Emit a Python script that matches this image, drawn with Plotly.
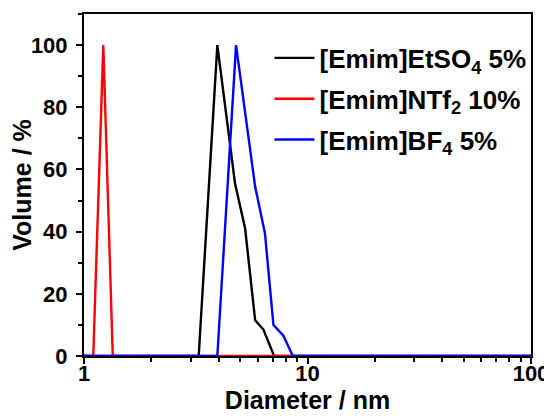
import plotly.graph_objects as go

# Data
black_x = [1, 3.26, 3.95, 4.74, 5.26, 5.83, 6.35, 7.09, 100]
black_y = [0, 0, 100, 55.5, 41, 11.5, 8.5, 0, 0]

red_x = [1, 1.10, 1.22, 1.345, 100]
red_y = [0, 0, 100, 0, 0]

blue_x = [1, 3.95, 4.79, 5.83, 6.45, 7.04, 7.8, 8.6, 100]
blue_y = [0, 0, 100, 54.5, 39.5, 10, 6.5, 0, 0]

names = ["[Emim]EtSO<sub>4</sub> 5%", "[Emim]NTf<sub>2</sub> 10%", "[Emim]BF<sub>4</sub> 5%"]
colors = ["#000000", "#ff0000", "#0000ff"]

x_ticks = [1, 10, 100]
x_minor = [2, 3, 4, 5, 6, 7, 8, 9, 20, 30, 40, 50, 60, 70, 80, 90]
y_ticks = [0, 20, 40, 60, 80, 100]

FONT = "Liberation Sans, Arial, sans-serif"

fig = go.Figure()
for i, (xs, ys, nm, c) in enumerate(zip([black_x, red_x, blue_x], [black_y, red_y, blue_y], names, colors)):
    fig.add_trace(go.Scatter(x=xs, y=ys, mode="lines", name=nm, legendgroup=f"g{i}",
                             line=dict(color=c, width=2.4)))

# The page body adds an 8px margin, so the figure is sized to fit the window.
fig.update_layout(
    width=544, height=411,
    margin=dict(l=76, r=21, t=6, b=63),
    paper_bgcolor="white", plot_bgcolor="white",
    font=dict(family=FONT, color="black"),
    showlegend=True,
    legend=dict(x=0.415, y=0.94, xanchor="left", yanchor="top",
                bgcolor="rgba(0,0,0,0)",
                font=dict(size=26, family=FONT, color="black", weight="bold"),
                itemwidth=40, tracegroupgap=4),
    xaxis=dict(type="log", range=[0, 2], automargin=False,
               tickvals=x_ticks, ticktext=["1", "10", "100"],
               ticks="outside", ticklen=6, tickwidth=2, tickcolor="black",
               ticklabelstandoff=-9,
               minor=dict(tickvals=x_minor, ticks="outside", ticklen=4,
                          tickwidth=2, tickcolor="black", showgrid=False),
               showline=True, linewidth=2, linecolor="black", mirror=True,
               showgrid=False, zeroline=False,
               tickfont=dict(size=22, family=FONT, weight="bold"),
               title=dict(text="Diameter / nm", standoff=0,
                          font=dict(size=25, family=FONT, weight="bold"))),
    yaxis=dict(range=[0, 110], automargin=False,
               tickvals=y_ticks,
               ticks="outside", ticklen=6, tickwidth=2, tickcolor="black",
               ticklabelstandoff=4,
               minor=dict(dtick=10, tick0=0, ticks="outside", ticklen=4,
                          tickwidth=2, tickcolor="black", showgrid=False),
               showline=True, linewidth=2, linecolor="black", mirror=True,
               showgrid=False, zeroline=False,
               tickfont=dict(size=22, family=FONT, weight="bold"),
               title=dict(text="Volume / %", standoff=2,
                          font=dict(size=25, family=FONT, weight="bold"))),
)

fig.write_html("out.html")
